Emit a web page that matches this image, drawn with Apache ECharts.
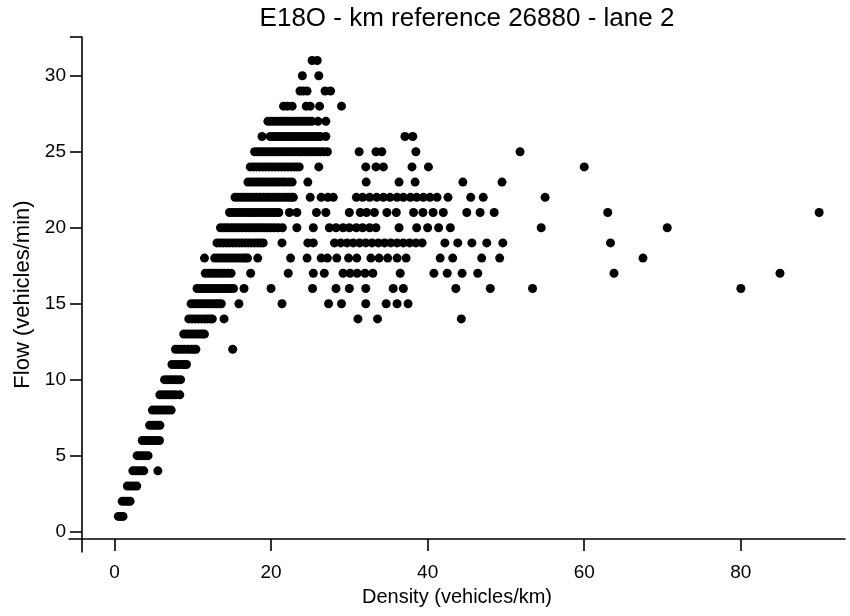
<!DOCTYPE html>
<html>
<head>
<meta charset="utf-8">
<script src="https://cdn.jsdelivr.net/npm/echarts@6/dist/echarts.min.js"></script>
<style>html,body{margin:0;padding:0;background:#fff;}#chart{width:850px;height:616px;}</style>
</head>
<body>
<div id="chart"></div>
<script>
// Flow levels (vehicles/min) and the densities (vehicles/km) observed at each level
const flows = [1,2,3,4,5,6,7,8,9,10,11,12,13,14,15,16,17,18,19,20,21,22,23,24,25,26,27,28,29,30,31];
const d01 = [0.5,0.8,1.1];
const d02 = [1.0,1.35,1.7,2.0];
const d03 = [1.65,2.05,2.45,2.85];
const d04 = [2.35,2.7,3.05,3.4,3.75,5.55];
const d05 = [2.9,3.25,3.6,3.95,4.3];
const d06 = [3.55,3.9,4.25,4.6,4.95,5.35,5.75];
const d07 = [4.5,4.85,5.2,5.5,5.8];
const d08 = [4.85,5.25,5.65,6.05,6.45,6.85,7.25];
const d09 = [5.8,6.2,6.6,7.0,7.4,7.8,8.35];
const d10 = [6.4,6.8,7.2,7.6,8.0,8.45];
const d11 = [7.35,7.75,8.15,8.55,8.9,9.2];
const d12 = [7.8,8.2,8.6,9.0,9.4,9.8,10.1,10.4,15.1];
const d13 = [8.85,9.25,9.65,10.05,10.45,10.85,11.2,11.5];
const d14 = [9.5,9.9,10.3,10.7,11.1,11.5,11.85,12.2,12.5,14.0,31.1,33.6,44.3];
const d15 = [9.8,10.2,10.6,11.0,11.4,11.8,12.2,12.6,13.0,13.3,13.65,15.9,21.4,27.35,29.0,32.1,34.7,36.1,37.5];
const d16 = [10.55,10.95,11.35,11.75,12.15,12.55,12.95,13.35,13.75,14.15,14.5,14.85,15.2,16.55,20.0,25.3,28.3,30.0,32.1,35.6,36.9,43.6,48.0,53.4,80.0];
const d17 = [11.6,12.0,12.4,12.8,13.2,13.6,14.0,14.45,14.9,17.4,22.2,25.4,26.8,29.2,30.1,31.0,32.0,33.0,36.5,40.8,42.5,44.4,46.4,63.8,85.0];
const d18 = [11.5,12.8,13.2,13.6,14.0,14.4,14.8,15.2,15.6,16.0,16.4,16.7,17.0,18.3,22.5,24.6,26.4,27.2,28.4,29.9,30.95,32.75,33.8,34.9,36.1,37.25,41.6,43.2,46.9,49.2,67.5];
const d19 = [13.1,13.5,13.9,14.3,14.7,15.1,15.5,15.9,16.3,16.7,17.1,17.5,17.9,18.3,18.65,19.0,21.4,24.7,25.4,28.1,28.9,29.7,30.5,31.3,32.1,32.9,33.7,34.5,35.3,36.1,36.9,37.7,38.5,39.3,42.2,43.85,45.65,47.55,49.6,63.35];
const d20 = [13.55,13.95,14.35,14.75,15.15,15.55,15.95,16.35,16.75,17.15,17.55,17.95,18.35,18.75,19.15,19.55,19.95,20.4,20.9,21.45,23.3,25.4,27.45,28.3,29.2,30.0,30.9,31.7,32.6,33.4,36.35,38.6,40.0,41.4,42.9,54.5,70.6];
const d21 = [14.7,15.1,15.5,15.9,16.3,16.7,17.1,17.5,17.9,18.3,18.7,19.1,19.5,19.9,20.3,20.65,21.0,22.35,23.3,25.8,27.0,30.0,31.4,32.2,33.2,34.8,36.0,38.2,39.4,40.7,42.0,45.0,46.7,48.5,63.0,90.0];
const d22 = [15.4,15.8,16.2,16.6,17.0,17.4,17.8,18.2,18.6,19.0,19.4,19.8,20.2,20.6,21.0,21.4,21.8,22.2,22.55,22.85,25.0,26.4,27.25,27.95,30.9,31.7,32.6,33.5,34.35,35.2,36.1,36.9,37.8,38.6,39.45,40.3,41.2,42.6,45.5,47.1,55.0];
const d23 = [17.05,17.45,17.85,18.25,18.65,19.05,19.45,19.85,20.25,20.65,21.05,21.45,21.85,22.3,22.7,24.7,32.15,36.35,38.4,44.5,49.5];
const d24 = [17.35,17.75,18.15,18.55,18.95,19.35,19.75,20.15,20.55,20.95,21.35,21.75,22.15,22.55,22.95,23.3,23.6,26.1,32.1,33.4,34.35,38.0,40.1,60.0];
const d25 = [17.9,18.3,18.7,19.1,19.5,19.9,20.3,20.7,21.1,21.5,21.9,22.3,22.7,23.1,23.5,23.9,24.3,24.7,25.1,25.5,25.9,26.3,26.7,27.2,31.25,33.4,34.15,38.5,51.8];
const d26 = [18.85,19.9,20.3,20.7,21.1,21.5,21.9,22.3,22.7,23.1,23.5,23.9,24.3,24.7,25.1,25.5,25.9,26.3,27.0,37.1,38.1];
const d27 = [19.6,20.0,20.4,20.8,21.2,21.6,22.0,22.4,22.8,23.2,23.6,24.0,24.4,24.8,25.2,26.0,27.0];
const d28 = [21.6,22.1,22.7,24.5,25.0,26.2,29.0];
const d29 = [23.7,24.1,24.6,26.9,27.6];
const d30 = [24.0,26.1];
const d31 = [25.25,25.9];
const densityRows = [d01,d02,d03,d04,d05,d06,d07,d08,d09,d10,d11,d12,d13,d14,d15,d16,d17,d18,d19,d20,d21,d22,d23,d24,d25,d26,d27,d28,d29,d30,d31];

const xTicks = [0,20,40,60,80];
const yTicks = [0,5,10,15,20,25,30];
const titleText = 'E18O - km reference 26880 - lane 2';
const xName = 'Density (vehicles/km)';
const yName = 'Flow (vehicles/min)';

const points = [];
densityRows.forEach((row, i) => row.forEach(d => points.push([d, flows[i]])));

const FONT = '"Liberation Sans", Arial, Helvetica, sans-serif';
const X_MIN = -5.8, X_MAX = 93.3, Y_MIN = -1.34, Y_MAX = 32.55;

const chart = echarts.init(document.getElementById('chart'), null, {renderer: 'canvas'});
chart.setOption({
  animation: false,
  backgroundColor: '#fff',
  textStyle: {fontFamily: FONT},
  graphic: [{
    type: 'text', x: 467, y: 19,
    style: {text: titleText, fill: '#000', font: '26px ' + FONT, textAlign: 'center', textVerticalAlign: 'middle'}
  }],
  grid: {left: 69, right: 5, top: 37, bottom: 64, containLabel: false},
  xAxis: {
    type: 'value', min: X_MIN, max: X_MAX, offset: -13,
    name: xName, nameLocation: 'middle', nameGap: 48,
    nameTextStyle: {fontSize: 20, color: '#000', fontFamily: FONT},
    axisLine: {show: true, onZero: false, lineStyle: {color: '#000', width: 1.6}},
    axisTick: {show: true, inside: false, length: 12, customValues: xTicks, lineStyle: {color: '#000', width: 1.6}},
    axisLabel: {show: true, customValues: xTicks, margin: 24, fontSize: 19, color: '#000', fontFamily: FONT},
    splitLine: {show: false}
  },
  yAxis: {
    type: 'value', min: Y_MIN, max: Y_MAX, offset: -13,
    name: yName, nameLocation: 'middle', nameRotate: 90, nameGap: 48,
    nameTextStyle: {fontSize: 22, color: '#000', fontFamily: FONT},
    axisLine: {show: true, onZero: false, lineStyle: {color: '#000', width: 1.6}},
    axisTick: {show: true, inside: false, length: 12, customValues: yTicks.concat([Y_MAX]), lineStyle: {color: '#000', width: 1.6}},
    axisLabel: {show: true, customValues: yTicks, margin: 16, fontSize: 19, color: '#000', fontFamily: FONT},
    splitLine: {show: false}
  },
  series: [{
    type: 'scatter',
    data: points,
    symbol: 'circle',
    symbolSize: 9,
    itemStyle: {color: '#000', opacity: 1},
    silent: true,
    emphasis: {disabled: true}
  }]
});
</script>
</body>
</html>
